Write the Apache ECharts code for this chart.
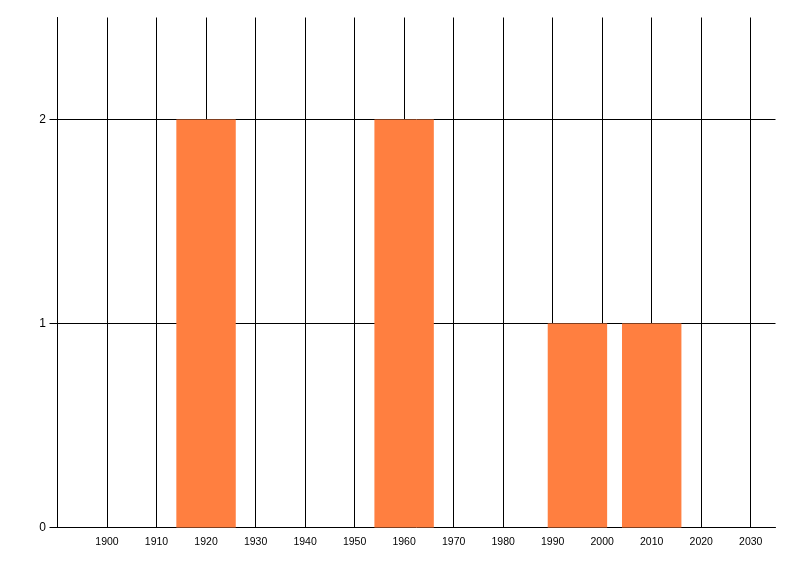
<!DOCTYPE html>
<html>
<head>
<meta charset="utf-8">
<script src="https://cdn.jsdelivr.net/npm/echarts@6/dist/echarts.min.js"></script>
<style>
html,body{margin:0;padding:0;background:#fff;}
#chart{width:800px;height:576px;}
</style>
</head>
<body>
<div id="chart"></div>
<script>
// Data
const years = [1920, 1960, 1995, 2010];
const counts = [2, 2, 1, 1];
const xTickLabels = [1900, 1910, 1920, 1930, 1940, 1950, 1960, 1970, 1980, 1990, 2000, 2010, 2020, 2030];
const yTickLabels = [0, 1, 2];
const binWidth = 12;

const chart = echarts.init(document.getElementById('chart'), null, {renderer: 'canvas'});
const seriesData = years.map((y, i) => [y, counts[i]]);

chart.setOption({
  backgroundColor: '#ffffff',
  animation: false,
  grid: {left: 57.5, right: 24.5, top: 17.5, bottom: 48.5, containLabel: false},
  xAxis: {
    type: 'value',
    min: 1890,
    max: 2035,
    interval: 10,
    axisLine: {show: true, lineStyle: {color: '#000', width: 1}},
    axisTick: {show: false},
    axisLabel: {
      customValues: xTickLabels,
      formatter: v => String(v),
      color: '#000',
      fontFamily: 'Liberation Sans, Arial, sans-serif',
      fontSize: 10.5,
      margin: 9.5
    },
    splitLine: {show: true, showMinLine: true, showMaxLine: false, lineStyle: {color: '#000', width: 1}}
  },
  yAxis: {
    type: 'value',
    min: 0,
    max: 2.5,
    interval: 1,
    axisLine: {show: true, lineStyle: {color: '#000', width: 1}},
    axisTick: {show: true, length: 8, customValues: yTickLabels, lineStyle: {color: '#000', width: 1}},
    axisLabel: {
      customValues: yTickLabels,
      formatter: v => String(v),
      color: '#000',
      fontFamily: 'Liberation Sans, Arial, sans-serif',
      fontSize: 12,
      margin: 11.5
    },
    splitLine: {show: true, showMinLine: false, showMaxLine: true, lineStyle: {color: '#000', width: 1}}
  },
  series: [{
    type: 'custom',
    data: seriesData,
    renderItem: function (params, api) {
      const x = api.value(0), v = api.value(1);
      const p0 = api.coord([x - binWidth / 2, v]);
      const p1 = api.coord([x + binWidth / 2, 0]);
      return {
        type: 'rect',
        shape: {x: p0[0], y: p0[1], width: p1[0] - p0[0], height: p1[1] - p0[1]},
        style: {fill: '#FF7F40'}
      };
    },
    z: 3
  }]
});
</script>
</body>
</html>
